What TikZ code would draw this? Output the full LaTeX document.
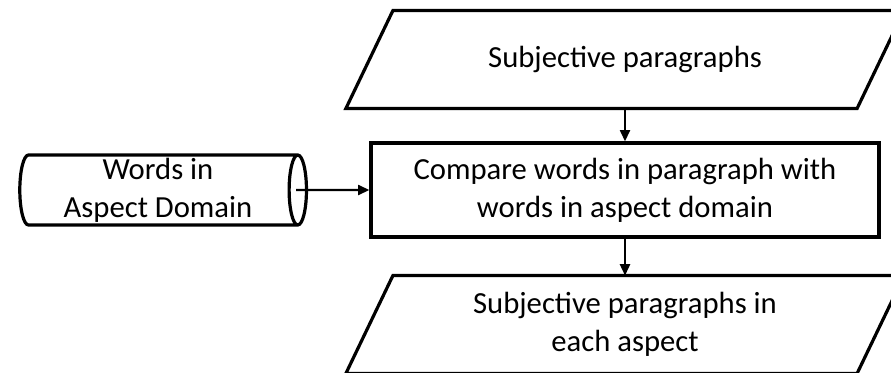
\documentclass[tikz,border=0pt]{standalone}
\usepackage{fontspec}
\setmainfont{Carlito}
\usetikzlibrary{shapes.geometric,arrows.meta,calc}

\tikzset{
  box/.style={draw, line width=2.4pt, minimum width=381pt, minimum height=70.5pt,
    inner sep=0pt, align=center},
  io/.style={box, draw=none, minimum height=71pt},
  ioline/.style={line width=2.4pt, line join=miter},
  db/.style={cylinder, draw, line width=2.4pt, shape aspect=0.27,
    minimum height=215pt, minimum width=52.5pt, inner sep=0pt, align=center},
  arr/.style={line width=1.6pt, -{Triangle[length=8.5pt,width=7.5pt]}}
}

\begin{document}
\begin{tikzpicture}[x=0.75pt, y=-0.75pt,
  font=\fontsize{23}{28.5}\selectfont]
\useasboundingbox (0,0) rectangle (891,372);
\clip (0,0) rectangle (891,372);

% Input paragraphs
\node[io] (subj) at (625,59.5) {Subjective paragraphs};
\draw[ioline]
($(subj.south west)+(-23.5,0)$) -- ($(subj.south east)+(-23.5,0)$)
-- ($(subj.north east)+(23.5,0)$) -- ($(subj.north west)+(23.5,0)$) -- cycle;

% Comparison
\node[box] (cmp) at (625,190)
{Compare words in paragraph with\\words in aspect domain};

% Output paragraphs
\node[io] (out) at (625,324.5)
{Subjective paragraphs in\\each aspect};
\draw[ioline]
($(out.south west)+(-23.5,0)$) -- ($(out.south east)+(-23.5,0)$)
-- ($(out.north east)+(23.5,0)$) -- ($(out.north west)+(23.5,0)$) -- cycle;

% Aspect domain
\node[db] (words) at (158,190) {Words in\\Aspect Domain};

% Arrows
\draw[arr] (subj.south) -- (cmp.north);
\draw[arr] (cmp.south) -- (out.north);
\draw[arr] ($(words.east)+(-12,0)$) -- (cmp.west);

\end{tikzpicture}
\end{document}
